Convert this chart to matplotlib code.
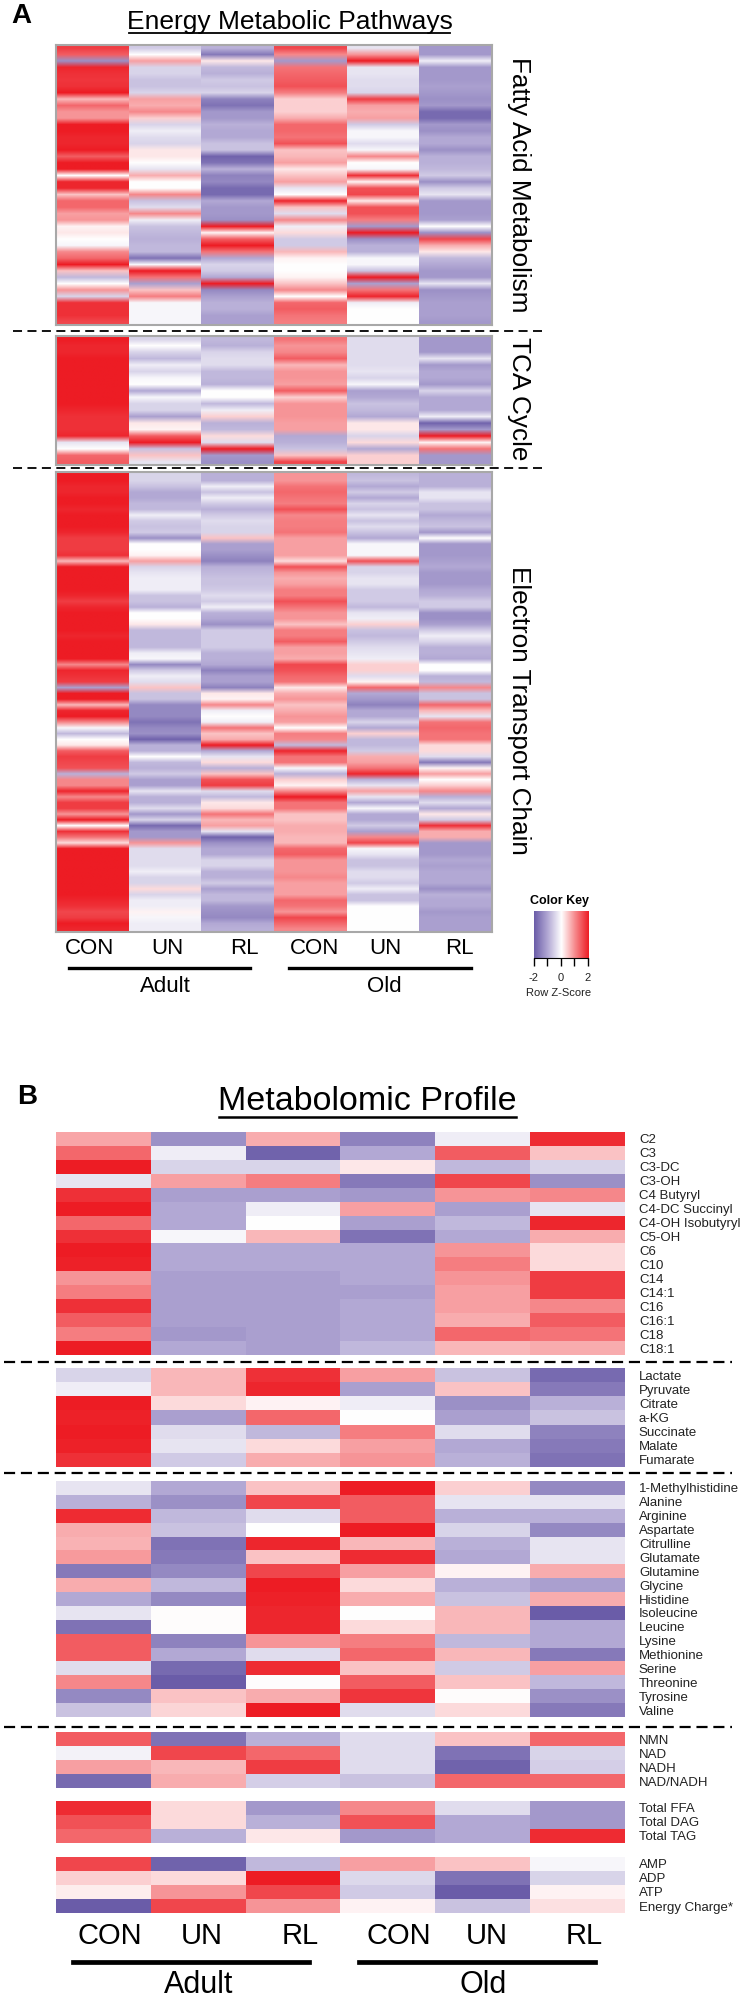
import numpy as np
import matplotlib
matplotlib.use('Agg')
import matplotlib.pyplot as plt
from matplotlib.colors import LinearSegmentedColormap

plt.rcParams['font.family'] = ['Liberation Sans', 'DejaVu Sans']

# z-scores, columns: Adult CON/UN/RL, Old CON/UN/RL
fatty_rows = [
    [1.7, -0.6, -0.9, 1.6, -0.3, -1.2], [1.4, 0.0, -1.6, 1.0, 0.9, -1.2],
    [-1.3, 0.8, 0.2, -1.2, 2.0, -0.2], [1.9, -0.5, -0.8, 1.2, -0.3, -1.2],
    [1.8, -0.5, -0.9, 1.3, -0.3, -1.2], [1.75, -0.7, -0.6, 1.4, -0.4, -1.2],
    [1.8, -0.7, -0.7, 1.5, -0.4, -1.1], [2.0, -0.5, -0.5, 1.1, -0.5, -1.2],
    [0.6, 0.8, -1.5, 0.4, 1.7, -1.3], [1.3, 0.7, -1.7, 0.4, 0.8, -1.2],
    [0.9, 1.0, -1.2, 0.4, 0.7, -1.8], [0.9, 0.4, -1.2, 0.7, 0.8, -1.8],
    [2.0, -0.5, -0.9, 1.3, -0.6, -1.2], [2.0, -0.2, -1.0, 1.3, -0.1, -1.3],
    [1.9, -0.4, -1.0, 1.2, -0.1, -1.0], [1.9, -0.5, -0.7, 1.5, -0.4, -1.0],
    [2.0, 0.2, -0.7, 0.5, -0.1, -1.3], [1.4, 0.2, -1.9, 0.6, 1.0, -0.9],
    [2.0, 0.0, -1.7, 0.8, 0.0, -0.9], [2.0, -0.3, -0.9, 0.2, -0.1, -0.8],
    [0.0, 0.7, -1.5, 0.5, 1.8, -0.6], [1.9, 0.0, -1.4, 0.8, 0.1, -1.3],
    [1.9, 0.0, -1.8, -0.3, 1.5, -0.6], [0.5, 1.0, -1.8, 0.0, 1.6, -0.3],
    [1.3, -0.7, -1.0, 1.9, 0.2, -1.2], [1.3, -0.4, -1.2, 0.5, 1.5, -1.2],
    [0.8, 1.0, -1.2, -0.4, 1.5, -1.2], [0.9, -0.2, -1.3, 1.0, 1.1, -1.1],
    [0.1, -0.7, 2.0, -0.2, -1.2, 0.0], [0.2, -0.8, 0.1, 0.3, 2.0, -1.3],
    [0.0, -0.9, 1.4, -0.6, -1.3, 1.6], [-0.1, -0.8, 2.0, -0.6, -0.9, 0.7],
    [1.0, -0.8, 1.2, 0.6, -0.9, 0.2], [1.3, -1.7, -1.0, 0.1, -0.1, -0.8],
    [2.0, -0.1, -0.5, 0.0, -0.1, -1.0], [0.5, 2.0, -0.6, 0.0, -0.7, -1.2],
    [-0.8, 1.2, -1.0, 0.1, 2.0, -1.2], [0.0, -1.1, 2.0, 0.5, -1.1, -0.3],
    [0.9, 0.5, -1.4, 1.0, 1.2, -1.3], [-0.5, 1.1, -1.1, 0.0, 1.9, -1.2],
    [1.8, -0.1, -0.9, 1.3, -0.2, -1.1], [1.8, -0.1, -0.9, 1.4, 0.0, -1.1],
    [1.8, -0.1, -1.1, 1.2, 0.0, -1.1], [1.6, -0.1, -1.1, 1.1, 0.0, -1.2],
]
tca_rows = [
    [2.0, -0.5, -0.8, 1.2, -0.4, -1.2], [1.9, 0.0, -0.9, 0.9, -0.4, -1.2],
    [1.9, -0.5, -0.5, 1.0, -0.4, -1.2], [2.0, -0.8, -0.4, 1.4, -0.4, -0.3],
    [2.0, -0.2, -0.4, 0.6, -0.4, -1.2], [2.0, -0.5, -0.8, 0.9, -0.3, -1.0],
    [2.0, -0.1, -0.8, 0.9, -0.5, -1.0], [2.0, 0.0, -0.9, 0.8, -0.1, -1.2],
    [2.0, -1.0, 0.0, 1.4, -1.1, -0.5], [2.0, -0.1, 0.0, 0.4, -1.0, -1.0],
    [2.0, -0.5, -0.8, 0.9, -0.7, -1.0], [1.9, -0.5, -0.2, 0.9, -0.8, -1.0],
    [1.8, -1.1, 0.4, 0.9, -1.0, -0.2], [1.8, 0.2, -0.9, 0.8, 0.2, -1.9],
    [1.8, 0.1, -0.8, 0.8, 0.2, -1.2], [1.9, 1.4, 0.3, -1.0, -0.5, 2.0],
    [-0.3, 2.0, -0.4, -0.9, 0.3, 0.1], [0.0, -0.7, 2.0, -0.7, -1.0, 1.2],
    [1.3, 0.5, -1.2, 0.5, 0.4, -1.2], [1.4, -0.3, -1.3, 1.6, 0.4, -1.2],
]
etc_rows = [
    [2.0, -0.5, -0.9, 0.9, -0.8, -0.9], [2.0, -0.5, -0.9, 0.9, -0.7, -0.9],
    [1.9, -0.7, -0.2, 1.2, -1.0, -0.9], [1.9, -1.0, -0.7, 1.3, -0.6, -0.3],
    [2.0, -1.0, -0.2, 1.2, -1.0, -0.3], [2.0, -0.8, -0.6, 1.1, -0.5, -0.7],
    [1.9, -0.8, -0.9, 1.5, -0.7, -0.7], [2.0, -0.2, -0.6, 1.0, -0.3, -1.0],
    [2.0, -0.6, -0.4, 1.1, -0.7, -0.8], [2.0, -0.7, -0.5, 1.1, -0.4, -0.7],
    [1.9, -0.6, -0.5, 1.2, -0.7, -1.2], [1.7, -1.3, 0.5, 0.8, -1.0, 0.0],
    [1.7, 0.0, -1.1, 0.8, -0.1, -1.2], [1.7, 0.0, -1.1, 0.8, -0.1, -1.2],
    [1.8, 0.1, -1.3, 0.8, -0.1, -1.2], [0.6, 0.8, -1.5, 0.3, 1.5, -1.1],
    [2.0, -0.5, -0.9, 1.5, -0.5, -1.0], [2.0, -0.3, -0.8, 0.9, -0.5, -1.2],
    [2.0, -0.2, -0.7, 0.7, -0.3, -1.2], [2.0, -0.2, -0.7, 0.8, -0.3, -1.2],
    [2.0, -0.2, -0.6, 1.1, -0.6, -1.0], [1.9, -0.7, -0.4, 1.1, -0.6, -0.9],
    [1.7, -0.7, -0.6, 1.5, -0.6, -0.6], [1.9, -0.9, -0.2, 1.2, -0.8, -0.6],
    [2.0, 0.0, -0.9, 0.9, -0.3, -1.3], [2.0, 0.0, -1.0, 0.9, -0.2, -1.3],
    [2.0, 0.2, -1.3, 0.5, 0.4, -1.1], [2.0, -0.8, -0.6, 1.1, -0.7, -0.6],
    [1.9, -0.8, -0.6, 1.1, -0.8, -0.2], [2.0, -0.8, -0.6, 1.4, -0.6, -0.5],
    [2.0, -0.8, -0.6, 0.8, -0.4, -0.9], [2.0, -0.2, -0.9, 0.8, -0.3, -0.9],
    [2.0, -0.1, -0.9, 0.7, -0.2, -1.0], [1.0, -1.4, -1.0, 1.6, 0.4, 0.0],
    [1.9, -0.6, -1.5, 1.5, 0.4, 0.0], [1.8, -0.2, -1.1, 1.3, -0.4, -0.9],
    [1.7, -0.4, -1.1, 1.2, 0.1, -0.8], [-1.1, 0.5, -1.5, 0.2, 1.3, 1.0],
    [2.0, -0.7, 0.2, 0.7, -1.0, -0.7], [2.0, -0.7, 0.1, 0.9, -1.2, -0.7],
    [0.6, -1.4, 1.0, 0.5, -1.5, 1.3], [1.9, -1.4, -0.2, 0.7, -1.0, 0.6],
    [2.0, -1.4, 0.0, 0.9, -1.0, -0.3], [1.0, -1.7, -0.2, 0.8, -0.5, 1.2],
    [-0.1, -1.4, 1.2, 0.0, -1.0, 1.3], [-0.8, -1.3, 0.5, 1.1, 0.4, 1.2],
    [0.0, -1.9, 0.7, 1.0, -0.8, 1.2], [0.2, -0.9, 2.0, -0.8, -0.8, 0.3],
    [1.4, -0.9, -1.0, 1.9, -0.6, 0.3], [1.7, 0.0, -0.3, 1.2, 0.7, -0.4],
    [1.6, -0.8, 0.3, 1.2, 0.8, -1.6], [1.5, -0.9, -0.9, -0.1, 1.2, 0.1],
    [-0.9, -0.6, 0.5, -0.9, 1.9, 0.8], [1.0, -1.1, 1.5, 0.4, -0.9, 0.0],
    [1.0, -1.1, 1.7, 0.1, -0.3, 0.4], [1.9, -0.3, -0.4, 1.0, 0.8, 1.0],
    [1.0, -0.9, -0.8, 2.0, -0.3, -0.9], [1.7, -0.9, 0.2, 1.2, -1.0, -0.4],
    [1.7, -0.4, 0.3, 1.2, -0.1, -1.0], [0.9, -1.2, 1.2, 0.5, -1.0, 0.2],
    [2.0, -0.5, 0.6, 0.5, -1.0, -0.6], [0.0, -1.8, 0.8, 0.7, -0.6, 1.8],
    [1.8, -1.2, -0.3, 0.7, -1.1, 0.7], [1.2, -1.2, -1.9, 0.6, 1.0, 0.7],
    [0.3, 0.9, -1.3, 0.6, 1.6, -1.2], [2.0, -0.4, -1.0, 1.3, -0.1, -1.2],
    [2.0, -0.4, -1.0, 1.4, -0.3, -1.2], [2.0, -0.4, -0.5, 0.9, -0.7, -1.0],
    [2.0, -0.4, -0.5, 0.9, -0.7, -1.1], [2.0, -0.2, -0.9, 0.9, -0.4, -1.0],
    [2.0, -0.5, -0.9, 1.0, -0.4, -1.0], [2.0, -0.5, -0.6, 0.8, -0.6, -1.0],
    [2.0, 0.3, -1.1, 0.8, -0.2, -1.3], [2.0, -0.5, -0.8, 0.8, -0.7, -0.9],
    [1.9, -0.2, -0.8, 1.3, -0.7, -1.0], [1.8, -0.2, -1.2, 1.2, 0.0, -1.0],
    [1.6, 0.1, -1.3, 0.9, 0.0, -1.2], [1.7, -0.1, -1.4, 1.6, 0.0, -1.1],
    [2.0, -0.2, -1.0, 1.3, 0.0, -1.1], [1.9, -0.2, -0.9, 1.0, 0.0, -1.1],
]

acyl_labels = ['C2', 'C3', 'C3-DC', 'C3-OH', 'C4 Butyryl', 'C4-DC Succinyl',
               'C4-OH Isobutyryl', 'C5-OH', 'C6', 'C10', 'C14', 'C14:1',
               'C16', 'C16:1', 'C18', 'C18:1']
acyl_rows = [
    [0.75, -1.3, 0.7, -1.5, -0.2, 1.85], [1.3, -0.2, -1.9, -1.0, 1.4, 0.5],
    [2.0, -0.5, -0.5, 0.2, -0.8, -0.5], [-0.3, 0.8, 1.1, -1.6, 1.6, -1.3],
    [1.8, -1.1, -1.1, -1.2, 0.9, 1.0], [2.0, -1.0, -0.2, 0.8, -1.1, -0.3],
    [1.3, -1.0, 0.0, -1.1, -0.8, 1.9], [1.8, -0.1, 0.6, -1.7, -1.0, 0.7],
    [2.0, -1.0, -1.0, -1.0, 0.9, 0.3], [1.95, -1.0, -1.0, -1.0, 1.1, 0.3],
    [0.9, -1.1, -1.1, -1.0, 0.9, 1.7], [1.1, -1.1, -1.1, -1.1, 0.8, 1.7],
    [1.8, -1.1, -1.1, -1.0, 0.8, 1.0], [1.4, -1.1, -1.1, -1.0, 0.7, 1.4],
    [1.1, -1.2, -1.1, -1.0, 1.3, 1.2], [2.0, -1.0, -1.1, -0.8, 0.6, 0.7],
]
krebs_labels = ['Lactate', 'Pyruvate', 'Citrate', 'a-KG', 'Succinate',
                'Malate', 'Fumarate']
krebs_rows = [
    [-0.5, 0.6, 1.8, 0.8, -0.7, -1.8], [-0.2, 0.6, 1.9, -1.1, 0.5, -1.6],
    [2.0, 0.3, 0.1, -0.2, -1.3, -0.9], [1.95, -1.1, 1.3, 0.0, -1.1, -0.7],
    [2.0, -0.4, -0.8, 1.1, -0.4, -1.5], [1.95, -0.3, 0.3, 0.8, -1.0, -1.6],
    [1.8, -0.6, 0.7, 0.9, -0.9, -1.7],
]
amino_labels = ['1-Methylhistidine', 'Alanine', 'Arginine', 'Aspartate',
                'Citrulline', 'Glutamate', 'Glutamine', 'Glycine', 'Histidine',
                'Isoleucine', 'Leucine', 'Lysine', 'Methionine', 'Serine',
                'Threonine', 'Tyrosine', 'Valine']
amino_rows = [
    [-0.3, -1.0, 0.5, 2.0, 0.4, -1.4], [-0.9, -1.3, 1.6, 1.4, -0.3, -0.3],
    [1.85, -0.8, -0.4, 1.4, -0.9, -0.9], [0.7, -0.7, 0.0, 2.0, -0.5, -1.4],
    [0.65, -1.7, 1.9, 0.6, -0.9, -0.3], [0.85, -1.6, 0.5, 1.85, -1.0, -0.3],
    [-1.6, -1.4, 1.6, 0.8, 0.1, 0.7], [0.7, -0.8, 2.0, 0.3, -0.9, -1.1],
    [-1.0, -1.4, 1.95, 0.7, -0.7, 0.7], [-0.3, 0.03, 1.9, 0.0, 0.6, -2.0],
    [-1.7, 0.03, 1.9, 0.3, 0.6, -1.0], [1.4, -1.5, 0.9, 1.1, -0.8, -1.0],
    [1.4, -1.0, -0.4, 1.3, 0.6, -1.6], [-0.4, -1.8, 1.85, 0.5, -0.6, 0.8],
    [1.0, -2.0, 0.03, 1.4, 0.5, -0.8], [-1.4, 0.5, 0.7, 1.75, 0.03, -1.3],
    [-0.7, 0.35, 2.0, -0.4, 0.3, -1.6],
]
nad_labels = ['NMN', 'NAD', 'NADH', 'NAD/NADH']
nad_rows = [
    [1.4, -1.7, -0.9, -0.4, 0.5, 1.3], [-0.15, 1.6, 1.3, -0.4, -1.7, -0.5],
    [0.8, 0.6, 1.7, -0.4, -1.9, -0.55], [-1.8, 0.7, -0.55, -0.7, 1.3, 1.3],
]
lipid_labels = ['Total FFA', 'Total DAG', 'Total TAG']
lipid_rows = [
    [1.85, 0.3, -1.2, 1.0, -0.4, -1.2], [1.5, 0.3, -0.9, 1.5, -1.0, -1.2],
    [1.3, -0.9, 0.2, -1.2, -1.0, 1.85],
]
energy_labels = ['AMP', 'ADP', 'ATP', 'Energy Charge*']
energy_rows = [
    [1.6, -1.9, -0.8, 0.8, 0.5, -0.1], [0.4, 0.3, 2.0, -0.45, -1.7, -0.5],
    [0.15, 0.9, 1.6, -0.6, -2.0, 0.1], [-2.0, 1.6, 0.9, 0.1, -0.7, 0.25],
]

groups = ['CON', 'UN', 'RL', 'CON', 'UN', 'RL']

W, H = 746, 2000
cmap = LinearSegmentedColormap.from_list(
    'key', ['#6a5ca8', '#b2a8d4', '#ffffff', '#f6898c', '#ed1c24'])
fig = plt.figure(figsize=(W / 100, H / 100), dpi=100)


def px_axes(x0, y0, x1, y1):
    return fig.add_axes([x0 / W, 1 - y1 / H, (x1 - x0) / W, (y1 - y0) / H])


def stripes(rows, y0, y1):
    # panel A, one image per column so only the rows blur into each other
    ax = px_axes(56, y0, 492, y1)
    data = np.array(rows)
    for i in range(data.shape[1]):
        ax.imshow(data[:, [i]], cmap=cmap, vmin=-2, vmax=2, aspect='auto',
                  interpolation='bilinear', interpolation_stage='rgba',
                  extent=(i, i + 1, len(rows), 0))
    ax.set_xlim(0, 6)
    ax.set_ylim(len(rows), 0)
    ax.set_xticks([])
    ax.set_yticks([])
    for s in ax.spines.values():
        s.set_color('#a8a8a8')
        s.set_linewidth(1.5)
    return ax


def cells(rows, labels, y0, y1):
    # panel B blocks, labels sit on the right as tick labels
    ax = px_axes(56.5, y0, 625, y1)
    ax.imshow(np.array(rows), cmap=cmap, vmin=-2, vmax=2, aspect='auto',
              interpolation='nearest', extent=(0, 6, len(rows), 0))
    ax.set_xticks([])
    ax.yaxis.tick_right()
    ax.set_yticks(np.arange(len(rows)) + 0.5)
    ax.set_yticklabels(labels, fontsize=9.5, color='#222222')
    ax.tick_params(axis='y', length=0, pad=10)
    for s in ax.spines.values():
        s.set_visible(False)
    return ax


stripes(fatty_rows, 45, 325)
stripes(tca_rows, 336, 465)
stripes(etc_rows, 472, 932)

cells(acyl_rows, acyl_labels, 1132, 1355)
cells(krebs_rows, krebs_labels, 1368, 1467)
cells(amino_rows, amino_labels, 1481, 1717)
cells(nad_rows, nad_labels, 1732, 1788)
cells(lipid_rows, lipid_labels, 1801, 1843)
cells(energy_rows, energy_labels, 1857, 1913)

# color key
key = px_axes(533.5, 911, 588, 958)
key.imshow(np.linspace(-2, 2, 256)[None, :], cmap=cmap, vmin=-2, vmax=2,
           aspect='auto', extent=(-2, 2, 0, 1))
key.set_yticks([])
key.set_xticks([-2, -1, 0, 1, 2])
key.set_xticklabels(['-2', '', '0', '', '2'], fontsize=8, color='#222222')
key.tick_params(axis='x', length=6, width=1, pad=5)
for name, s in key.spines.items():
    s.set_visible(name == 'bottom')

# everything else is placed in picture pixels
over = fig.add_axes([0, 0, 1, 1], zorder=5)
over.set_xlim(0, W)
over.set_ylim(H, 0)
over.axis('off')
over.patch.set_alpha(0)


def label(x, y, s, size, **kw):
    kw.setdefault('ha', 'center')
    kw.setdefault('va', 'center')
    over.text(x, y, s, fontsize=size, **kw)


label(21, 16, 'A', 20, fontweight='bold')
label(27, 1097, 'B', 20, fontweight='bold')
label(290, 22, 'Energy Metabolic Pathways', 19)
over.plot([129, 450], [33, 33], color='black', lw=1.3)
label(367, 1102, 'Metabolomic Profile', 24.5)
over.plot([219, 516], [1117, 1117], color='black', lw=1.8)

for s, y in [('Fatty Acid Metabolism', 185), ('TCA Cycle', 399),
             ('Electron Transport Chain', 710)]:
    label(519, y, s, 18.8, rotation=270)

for y in [331, 468]:
    over.plot([13, 542], [y, y], color='black', lw=1.3, dashes=(5, 3))
for y in [1362, 1473, 1727]:
    over.plot([4, 732], [y, y], color='black', lw=1.6, dashes=(5, 2.6))

for x, s in zip([89.5, 167, 244, 315, 385, 459], groups):
    label(x, 948, s, 16)
over.plot([69, 250], [968, 968], color='black', lw=2.4)
over.plot([289, 471], [968, 968], color='black', lw=2.4)
label(165, 987, 'Adult', 16)
label(384, 987, 'Old', 16)

for x, s in zip([110, 202, 300, 399, 487, 584], groups):
    label(x, 1936, s, 21)
over.plot([73, 309], [1962, 1962], color='black', lw=3.4)
over.plot([359, 595], [1962, 1962], color='black', lw=3.4)
label(199, 1985, 'Adult', 22)
label(483, 1985, 'Old', 22)

label(560, 901, 'Color Key', 9, fontweight='bold')
label(559, 993, 'Row Z-Score', 8, color='#222222')

fig.savefig('out.png', dpi=100)
